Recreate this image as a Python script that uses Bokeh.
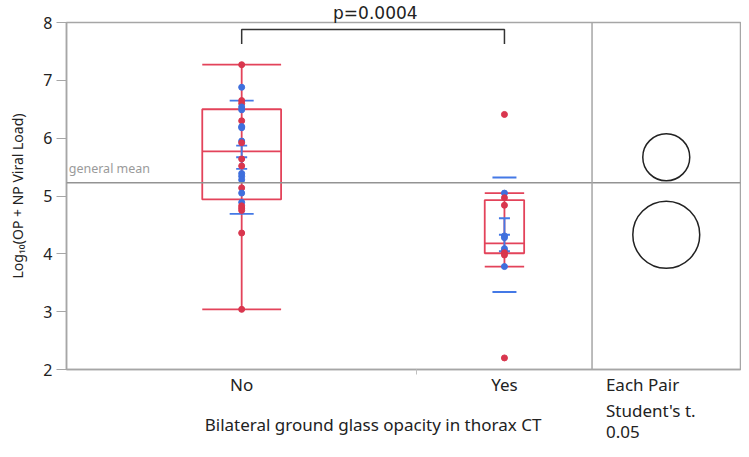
from bokeh.plotting import figure
from bokeh.models import Range1d, FixedTicker, Span, Label
from bokeh.layouts import column
from bokeh.core.properties import value
from bokeh.embed import file_html
from bokeh.resources import INLINE

# ---------------- data ----------------
groups = ["No", "Yes"]

no_values = [7.27, 6.88, 6.65, 6.60, 6.54, 6.49, 6.30, 6.20, 5.95, 5.92, 5.64, 5.52,
             5.39, 5.34, 5.28, 5.14, 5.05, 4.89, 4.83, 4.79, 4.75, 4.36, 3.04, 6.18]
no_kind = ["r", "b", "r", "r", "b", "b", "r", "b", "b", "r", "r", "r",
           "b", "b", "b", "r", "b", "b", "r", "r", "r", "r", "r", "b"]

yes_values = [6.41, 5.05, 4.97, 4.84, 4.31, 4.28, 4.09, 4.05, 4.02, 3.98, 3.78, 2.20]
yes_kind = ["r", "b", "r", "r", "b", "b", "b", "b", "r", "r", "b", "r"]

q1 = [4.94, 4.01]
median = [5.77, 4.18]
q3 = [6.50, 4.93]
whisker_lo = [3.04, 3.78]
whisker_hi = [7.27, 5.05]

means = [5.67, 4.33]
sds = [0.98, 0.99]
ses = [0.20, 0.285]
grand_mean = 5.23
t_crit = 2.03
p_text = "p=0.0004"
x_title = "Bilateral ground glass opacity in thorax CT"
test_lines = ["Each Pair", "Student's t.", "0.05"]

# ---------------- styling / layout ----------------
RED = "#E3435A"
RED_PT = "#D9364E"
BLUE = "#4479E6"
BLUE_PT = "#3F6FDD"
GRAY = "#A6A6A6"
TXT = "#222222"
FONT = "Noto Sans"

W = 741
H_MAIN, H_BOT = 398, 43
BL, BR, BT, BB = 66, 1, 21, 24
FRAME_W = W - BL - BR

n = [len(no_values), len(yes_values)]
total = n[0] + n[1]
centers = [n[0] // 2, n[0] + n[1] // 2]
panel_w = total * 0.2825
xmax = total + panel_w
panel_c = total + panel_w / 2
box_w = [0.225 * k for k in n]
px_per_x = FRAME_W / xmax
mid = (centers[0] + centers[1]) / 2
mid_sx = mid * px_per_x                                  # relative to frame left
panel_text_x = total + 14 / px_per_x                     # left edge of panel texts
each_pair_x = round(total + (14 + 36.5) / px_per_x, 2)   # tick carrying "Each Pair"

p = figure(width=W, height=H_MAIN, x_range=Range1d(0, xmax), y_range=Range1d(2, 8),
           output_backend="svg", toolbar_location=None,
           min_border_left=BL, min_border_right=BR, min_border_top=BT, min_border_bottom=BB)
p.background_fill_color = "white"
p.border_fill_color = "white"
p.xgrid.visible = False
p.ygrid.visible = False
p.outline_line_color = GRAY
p.outline_line_width = 1.5

# p-value as title above the frame
p.title.text = p_text
p.title.align = "left"
p.title.offset = mid_sx - 40
p.title.standoff = 0
p.title.text_font = "DejaVu Sans"
p.title.text_font_size = "17px"
p.title.text_font_style = "normal"
p.title.text_color = TXT

# axes
p.xaxis.ticker = FixedTicker(ticks=centers + [each_pair_x], minor_ticks=[n[0]])
p.xaxis.major_label_overrides = {centers[0]: groups[0], centers[1]: groups[1],
                                 each_pair_x: test_lines[0]}
p.xaxis.major_tick_line_color = None
p.xaxis.minor_tick_line_color = "#C0C0C0"
p.xaxis.minor_tick_out = 5
p.xaxis.minor_tick_in = 0
p.xaxis.axis_line_color = GRAY
p.xaxis.axis_line_width = 1.5
p.xaxis.major_label_standoff = -3
p.xaxis.major_label_text_font = FONT
p.xaxis.major_label_text_font_size = "17px"
p.xaxis.major_label_text_color = TXT

p.yaxis.ticker = FixedTicker(ticks=[2, 3, 4, 5, 6, 7, 8], minor_ticks=[])
p.yaxis.major_tick_out = 10
p.yaxis.major_tick_in = 0
p.yaxis.major_tick_line_color = GRAY
p.yaxis.axis_line_color = GRAY
p.yaxis.axis_line_width = 1.5
p.yaxis.major_label_standoff = 4
p.yaxis.major_label_text_font = FONT
p.yaxis.major_label_text_font_size = "16px"
p.yaxis.major_label_text_color = TXT
p.yaxis.axis_label = "Log\u2081\u2080(OP + NP Viral Load)"
p.yaxis.axis_label_text_font = FONT
p.yaxis.axis_label_text_font_size = "14px"
p.yaxis.axis_label_text_font_style = "normal"
p.yaxis.axis_label_text_color = TXT
p.yaxis.axis_label_standoff = 13

# reference lines
p.add_layout(Span(location=grand_mean, dimension="width", line_color="#939393", line_width=1.5))
p.add_layout(Span(location=total, dimension="height", line_color=GRAY, line_width=1.5))
p.add_layout(Label(x=0.15, y=grand_mean + 0.1, text="general mean", text_font=FONT,
                   text_font_size="12.5px", text_color="#9A9A9A", text_baseline="bottom"))

# box plots
left = [c - w / 2 for c, w in zip(centers, box_w)]
right = [c + w / 2 for c, w in zip(centers, box_w)]
p.quad(left=left, right=right, bottom=q1, top=q3, fill_color=None, line_color=RED, line_width=1.8)
p.segment(x0=left, x1=right, y0=median, y1=median, line_color=RED, line_width=1.8)
p.segment(x0=centers, x1=centers, y0=whisker_lo, y1=whisker_hi, line_color=RED, line_width=1.8)
p.segment(x0=left, x1=right, y0=whisker_lo, y1=whisker_lo, line_color=RED, line_width=1.8)
p.segment(x0=left, x1=right, y0=whisker_hi, y1=whisker_hi, line_color=RED, line_width=1.8)

# std dev lines and mean error bars
sd_y = [m + s for m, s in zip(means, sds)] + [m - s for m, s in zip(means, sds)]
p.scatter(x=centers + centers, y=sd_y, marker="dash", size=24, line_color=BLUE, line_width=1.8)
se_lo = [m - s for m, s in zip(means, ses)]
se_hi = [m + s for m, s in zip(means, ses)]
p.segment(x0=centers, x1=centers, y0=se_lo, y1=se_hi, line_color=BLUE, line_width=1.8)
p.scatter(x=centers * 3, y=se_lo + means + se_hi, marker="dash", size=11, line_color=BLUE, line_width=1.8)

# points
for c, vals, kinds in ((centers[0], no_values, no_kind), (centers[1], yes_values, yes_kind)):
    cols = [RED_PT if k == "r" else BLUE_PT for k in kinds]
    p.scatter(x=[c] * len(vals), y=vals, size=6, fill_color=cols, line_color=cols)

# significance bracket
p.line(x=[centers[0], centers[0], centers[1], centers[1]], y=[7.63, 7.88, 7.88, 7.63],
       line_color="#333333", line_width=1.5)

# comparison circles
p.circle(x=[panel_c, panel_c], y=means, radius=[t_crit * s for s in ses], radius_dimension="y",
         fill_color=None, line_color="#222222", line_width=1.5)

# ---------------- strip below: axis title and test description ----------------
b = figure(width=W, height=H_BOT, x_range=p.x_range, y_range=Range1d(H_BOT, 0),
           output_backend="svg", toolbar_location=None,
           min_border_left=BL, min_border_right=BR, min_border_top=0, min_border_bottom=0)
b.axis.visible = False
b.grid.visible = False
b.outline_line_color = None
b.background_fill_color = "white"
b.border_fill_color = "white"
b.text(x=[mid], y=[26], text=[x_title], text_align="center", text_baseline="middle",
       text_font=value(FONT), text_font_size="17px", text_color=TXT)
b.text(x=[panel_text_x] * 2, y=[12, 33], text=test_lines[1:], text_align="left",
       text_baseline="middle", text_font=value(FONT), text_font_size="17px", text_color=TXT)

layout = column(p, b, spacing=0)
open("out.html", "w").write(file_html(layout, INLINE))
